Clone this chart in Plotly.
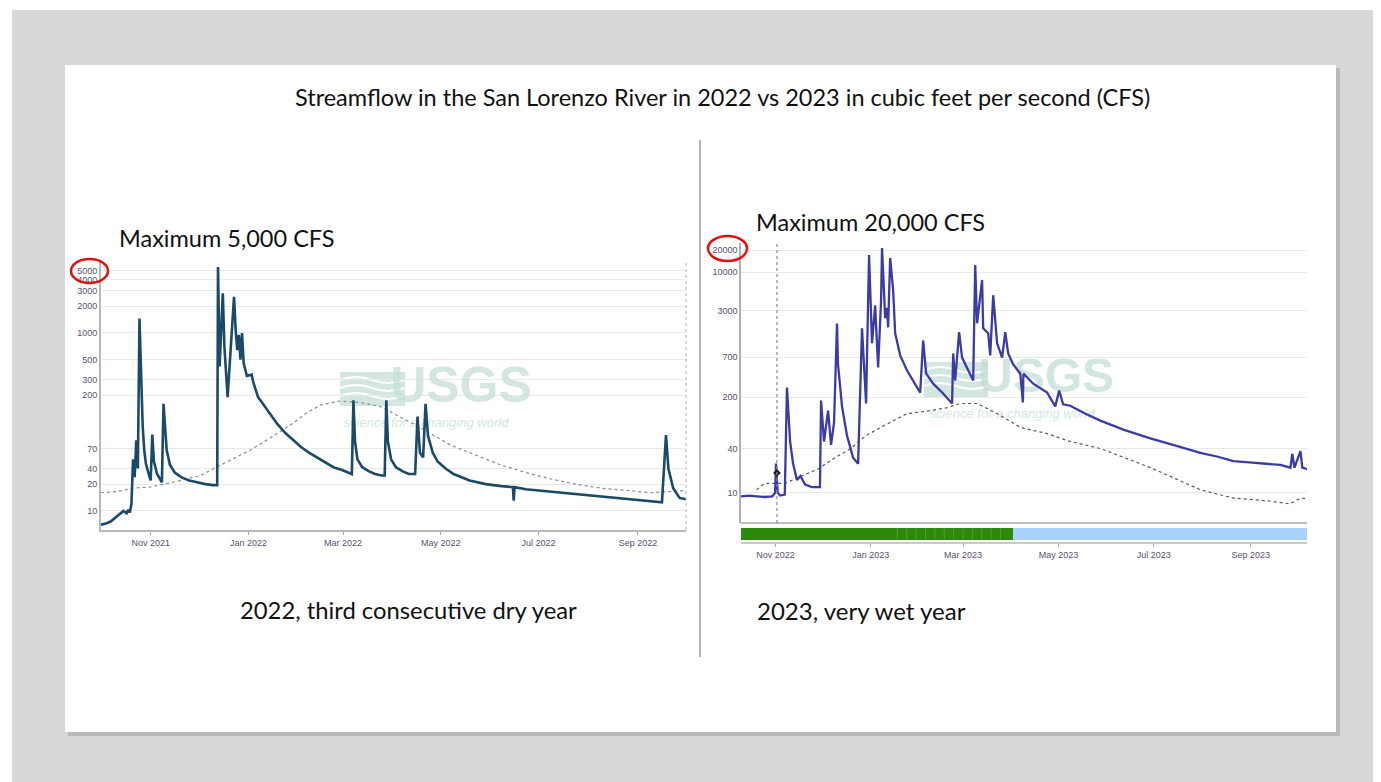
import pandas as pd
import numpy as np
import plotly.graph_objects as go

# ---------------- DATA ----------------
# Water year 2022 (left chart), days counted from WY22_START
WY22_START = "2021-10-01"
left_days = [0, 3, 6, 9, 12, 14, 16, 17, 18, 19, 20, 21, 22, 23, 24, 25, 26, 27, 28, 30,
             31, 32, 33, 35, 37, 38, 39, 40, 41, 43, 46, 50, 55, 60, 65, 70, 72.5, 73, 74, 76,
             77, 79, 80, 83, 84, 85, 86, 87, 88, 89, 91, 94, 95, 98, 100, 105, 110, 115, 120, 125,
             130, 135, 140, 145, 150, 155, 156.5, 157.5, 158.5, 160, 163, 167, 171, 175, 177, 178, 179, 181, 184, 188,
             192, 196, 197.5, 199, 201, 202.5, 204, 207, 210, 215, 220, 230, 240, 250, 257, 257.5, 258, 265, 280, 300,
             320, 340, 350, 352.5, 354, 357, 361, 365]
left_cfs = [7, 7.2, 7.6, 8.5, 9.3, 10, 9.4, 10.3, 9.6, 12, 38, 24, 62, 30, 1450, 280, 90, 48, 34, 25,
            22, 72, 36, 26, 22, 21, 160, 75, 48, 33, 27, 24, 22, 21, 20, 19.5, 19.5, 5500, 420, 2800,
            700, 190, 350, 2550, 1100, 640, 950, 500, 1000, 460, 330, 340, 280, 190, 170, 125, 95, 75, 62, 52,
            45, 40, 35, 31, 29, 27, 26, 175, 60, 38, 31, 28, 26, 25, 25, 175, 60, 38, 31, 28,
            26, 26, 115, 45, 40, 160, 70, 45, 36, 30, 26, 22, 20, 19, 18.5, 13, 18.5, 17.5, 16.5, 15,
            14, 13, 12.5, 71, 30, 18, 14, 13.5]
left_median_days = [0, 10, 20, 31, 45, 62, 75, 93, 105, 118, 128, 137, 149, 162, 174, 187, 200, 218,
                    235, 249, 265, 280, 296, 312, 328, 343, 355, 365]
left_median_cfs = [16, 16.5, 18, 18.6, 21, 25, 33, 48, 65, 92, 125, 155, 172, 165, 150, 112, 85, 55,
                   42, 33, 27, 23, 20, 18, 17, 16, 16.5, 17]
left_tickvals = [10, 20, 30, 50, 200, 300, 500, 1000, 2000, 3000, 4000, 5000]
left_ticktext = ["10", "20", "40", "70", "200", "300", "500", "1000", "2000", "3000", "4000", "5000"]

# Water year 2023 (right chart), days counted from WY23_START
WY23_START = "2022-10-10"
right_days = [0, 5, 10, 15, 20, 21.8, 22.4, 23.5, 25, 28, 29.4, 30.5, 31.4, 33.3, 35.8, 38, 41, 45.4, 50.5, 51.2,
              53.1, 55.7, 57.6, 59.5, 61.4, 62, 64.6, 67.8, 71.7, 74.9, 77.4, 80, 81.9, 83.8, 85.8, 87.7, 89.6, 90.2, 92.2, 93.4,
              94.1, 95.4, 97.3, 98.6, 101.8, 106.2, 112.6, 114.6, 116.5, 118.4, 122.9, 129.3, 135, 135.7, 137, 139.5, 141.4, 144.6, 148.5, 149.8,
              151, 154.2, 154.9, 158.1, 159.4, 161.3, 163.8, 167, 169, 170.9, 174, 178.6, 180.3, 180.6, 181, 186.9, 195.8, 201, 203.5, 206,
              210.6, 220, 229.8, 245, 261.8, 278, 293.8, 305, 314.9, 325, 336.6, 345, 351.4, 352.6, 354, 357.8, 359, 362.2]
right_cfs = [9, 9.2, 9, 8.8, 9, 10, 25, 10, 9.2, 9.5, 270, 90, 50, 25, 15, 17, 13, 12, 12, 180,
             50, 131, 45, 90, 2000, 575, 150, 60, 30, 25, 1730, 164, 17100, 1080, 3540, 505, 4170, 21300, 2370, 3270,
             1780, 15600, 5700, 1480, 740, 460, 270, 231, 1180, 420, 305, 224, 164, 786, 337, 1530, 690, 505, 337, 12500,
             2020, 7830, 1730, 1480, 740, 4860, 1080, 690, 1530, 786, 560, 420, 170, 400, 410, 305, 231, 150, 246, 160,
             153, 120, 96, 72, 55, 44, 35, 31, 27, 26, 25, 24, 22, 34, 22, 37, 22, 21]
right_median_days = [10, 15, 28, 36, 49, 60, 70, 80, 89, 106, 121, 132, 140, 151, 164, 179, 196, 209,
                     230, 262, 294, 315, 337, 351, 358, 362]
right_median_cfs = [11, 13.5, 13.5, 16, 21, 30, 40, 60, 77, 119, 131, 144, 164, 164, 119, 77, 64, 51,
                    40, 22, 11, 8.5, 7.8, 7.1, 8.5, 8.3]
right_tickvals = [10, 40, 200, 700, 3000, 10000, 20000]
right_ticktext = ["10", "40", "200", "700", "3000", "10000", "20000"]
right_marker_date = "2022-11-02"
right_marker_cfs = 18.7
approved_end = "2023-04-02"
approved_stripes = ["2023-01-18", "2023-01-24", "2023-01-30", "2023-02-05", "2023-02-11", "2023-02-17",
                    "2023-02-23", "2023-03-01", "2023-03-07", "2023-03-13", "2023-03-19", "2023-03-25"]

assert len(left_days) == len(left_cfs)
assert len(right_days) == len(right_cfs)
assert len(left_median_days) == len(left_median_cfs)
assert len(right_median_days) == len(right_median_cfs)


def to_dates(start, days):
    return pd.to_datetime(start) + pd.to_timedelta(days, unit="D")


# ---------------- GEOMETRY ----------------
W, H = 1381, 782
OFF = 8  # default page body margin


def px(x):
    return (x - OFF) / W


def py(y):
    return 1 - (y - OFF) / H


L_X0, L_X1, L_Y0, L_Y1 = 101, 686, 262, 530
R_X0, R_X1, R_Y0, R_Y1 = 741, 1307, 243, 523
L_RANGE = ["2021-10-01", "2022-10-01"]
R_RANGE = ["2022-10-10", "2023-10-07"]
L_YR = [np.log10(6.1), np.log10(6280)]
R_YR = [np.log10(3.9), np.log10(24900)]


def xdate(x, x0, x1, rng):
    a, b = pd.to_datetime(rng[0]), pd.to_datetime(rng[1])
    return a + (b - a) * ((x - x0) / (x1 - x0))


def yval(y, y0, y1, yr):
    return 10 ** (yr[0] + (yr[1] - yr[0]) * ((y1 - y) / (y1 - y0)))


WM = "rgba(196,222,212,0.75)"
fig = go.Figure()

# watermark text (drawn first, beneath data)
fig.add_trace(go.Scatter(
    x=[xdate(461, L_X0, L_X1, L_RANGE), xdate(426, L_X0, L_X1, L_RANGE)],
    y=[yval(389, L_Y0, L_Y1, L_YR), yval(424, L_Y0, L_Y1, L_YR)],
    mode="text", text=["<b>USGS</b>", "<i>science for a changing world</i>"],
    textfont=dict(family="Liberation Sans", size=[50, 13], color=WM),
    hoverinfo="skip", showlegend=False, xaxis="x", yaxis="y"))
fig.add_trace(go.Scatter(
    x=[xdate(1046, R_X0, R_X1, R_RANGE), xdate(1012, R_X0, R_X1, R_RANGE)],
    y=[yval(380, R_Y0, R_Y1, R_YR), yval(415, R_Y0, R_Y1, R_YR)],
    mode="text", text=["<b>USGS</b>", "<i>science for a changing world</i>"],
    textfont=dict(family="Liberation Sans", size=[48, 13], color=WM),
    hoverinfo="skip", showlegend=False, xaxis="x2", yaxis="y2"))

# left chart
fig.add_trace(go.Scatter(x=to_dates(WY22_START, left_median_days), y=left_median_cfs, mode="lines",
                         line=dict(color="#8a8a8a", width=1.2, dash="dot"), showlegend=False,
                         xaxis="x", yaxis="y"))
fig.add_trace(go.Scatter(x=to_dates(WY22_START, left_days), y=left_cfs, mode="lines",
                         line=dict(color="#1b4a68", width=2.6), showlegend=False,
                         xaxis="x", yaxis="y"))
# right chart
fig.add_trace(go.Scatter(x=to_dates(WY23_START, right_median_days), y=right_median_cfs, mode="lines",
                         line=dict(color="#5a5a5a", width=1.2, dash="dot"), showlegend=False,
                         xaxis="x2", yaxis="y2"))
fig.add_trace(go.Scatter(x=to_dates(WY23_START, right_days), y=right_cfs, mode="lines",
                         line=dict(color="#3b3ba6", width=2.3), showlegend=False,
                         xaxis="x2", yaxis="y2"))
fig.add_trace(go.Scatter(x=[pd.to_datetime(right_marker_date)], y=[right_marker_cfs], mode="markers",
                         marker=dict(color="#222", size=6, symbol="diamond"), showlegend=False,
                         xaxis="x2", yaxis="y2"))

tickfont = dict(family="Liberation Sans", size=9, color="#5a5070")
grid = "#e9e9e9"

fig.update_layout(
    width=W, height=H, autosize=False,
    margin=dict(l=0, r=0, t=0, b=0),
    paper_bgcolor="white", plot_bgcolor="rgba(0,0,0,0)",
    xaxis=dict(domain=[px(L_X0), px(L_X1)], anchor="y", type="date", range=L_RANGE,
               tick0="2021-11-01", dtick="M2", tickformat="%b %Y", ticks="outside", ticklen=3,
               tickcolor="#aaa", showline=True, linecolor="#b8b8b8", linewidth=2,
               showgrid=False, zeroline=False, tickfont=tickfont),
    yaxis=dict(domain=[py(L_Y1), py(L_Y0)], anchor="x", type="log", range=L_YR,
               tickvals=left_tickvals, ticktext=left_ticktext, ticks="", showline=True,
               linecolor="#b8b8b8", linewidth=2, gridcolor=grid, gridwidth=1, zeroline=False,
               tickfont=tickfont),
    xaxis2=dict(domain=[px(R_X0), px(R_X1)], anchor="free", position=py(543), type="date",
                range=R_RANGE, tick0="2022-11-01", dtick="M2", tickformat="%b %Y",
                ticks="outside", ticklen=3, tickcolor="#aaa", showline=True, linecolor="#c8c8c8",
                linewidth=2, showgrid=False, zeroline=False, tickfont=tickfont),
    yaxis2=dict(domain=[py(R_Y1), py(R_Y0)], anchor="x2", type="log", range=R_YR,
                tickvals=right_tickvals, ticktext=right_ticktext, ticks="", showline=True,
                linecolor="#b0b0b0", linewidth=1.5, gridcolor=grid, gridwidth=1, zeroline=False,
                tickfont=tickfont),
)

shapes = []
# page background and card
shapes.append(dict(type="rect", xref="paper", yref="paper", x0=px(12), x1=1, y0=0, y1=py(10),
                   fillcolor="#d8d8d8", line=dict(width=0), layer="below"))
shapes.append(dict(type="rect", xref="paper", yref="paper", x0=px(68), x1=px(1340), y0=py(736), y1=py(68),
                   fillcolor="#b9b9b9", line=dict(width=0), layer="below"))
shapes.append(dict(type="rect", xref="paper", yref="paper", x0=px(65), x1=px(1336), y0=py(732), y1=py(65),
                   fillcolor="white", line=dict(width=0), layer="below"))
# USGS wave boxes (watermark)
shapes.append(dict(type="rect", xref="paper", yref="paper", x0=px(340), x1=px(405), y0=py(406), y1=py(372),
                   fillcolor=WM, line=dict(width=0), layer="below"))
shapes.append(dict(type="rect", xref="paper", yref="paper", x0=px(924), x1=px(988), y0=py(397), y1=py(362),
                   fillcolor=WM, line=dict(width=0), layer="below"))
for (bx, by) in [(340, 380), (340, 388), (340, 396), (924, 370), (924, 378), (924, 386)]:
    shapes.append(dict(type="path", xref="paper", yref="paper",
                       path=f"M {px(bx)} {py(by)} Q {px(bx+16)} {py(by-6)} {px(bx+32)} {py(by)} T {px(bx+64)} {py(by)}",
                       line=dict(color="white", width=2), layer="below"))
# divider
shapes.append(dict(type="line", xref="paper", yref="paper", x0=px(700), x1=px(700), y0=py(657), y1=py(140),
                   line=dict(color="#6a6a6a", width=1)))
# left chart right dotted border
shapes.append(dict(type="line", xref="paper", yref="paper", x0=px(L_X1), x1=px(L_X1), y0=py(L_Y1), y1=py(L_Y0),
                   line=dict(color="#b0b0b0", width=1, dash="dot")))
# right chart bottom border
shapes.append(dict(type="line", xref="paper", yref="paper", x0=px(R_X0), x1=px(R_X1), y0=py(R_Y1), y1=py(R_Y1),
                   line=dict(color="#a8a8a8", width=1.5)))
# right chart dotted marker line
shapes.append(dict(type="line", xref="x2", yref="paper", x0=right_marker_date, x1=right_marker_date,
                   y0=py(R_Y1), y1=py(R_Y0), line=dict(color="#8a8a8a", width=1.2, dash="dot")))
# qualifier bar
shapes.append(dict(type="rect", xref="x2", yref="paper", x0=R_RANGE[0], x1=approved_end, y0=py(540), y1=py(528),
                   fillcolor="#2b8a0a", line=dict(width=0)))
shapes.append(dict(type="rect", xref="x2", yref="paper", x0=approved_end, x1=R_RANGE[1], y0=py(540), y1=py(528),
                   fillcolor="#a9d3ff", line=dict(width=0)))
for s in approved_stripes:
    shapes.append(dict(type="line", xref="x2", yref="paper", x0=s, x1=s, y0=py(540), y1=py(528),
                       line=dict(color="#4aa030", width=1)))
# red circles
shapes.append(dict(type="circle", xref="paper", yref="paper", x0=px(71), x1=px(108), y0=py(283), y1=py(259),
                   line=dict(color="#e01010", width=2.5)))
shapes.append(dict(type="circle", xref="paper", yref="paper", x0=px(708), x1=px(747), y0=py(261), y1=py(236),
                   line=dict(color="#e01010", width=2.5)))
fig.update_layout(shapes=shapes)

TF = "Lato"
ann = [
    dict(text="Streamflow in the San Lorenzo River in 2022 vs 2023 in cubic feet per second (CFS)",
         x=px(722), y=py(97), size=23.5, xanchor="center"),
    dict(text="Maximum 5,000 CFS", x=px(117), y=py(238), size=23.5, xanchor="left"),
    dict(text="Maximum 20,000 CFS", x=px(754), y=py(222), size=23.5, xanchor="left"),
    dict(text="2022, third consecutive dry year", x=px(408), y=py(610), size=23.8, xanchor="center"),
    dict(text="2023, very wet year", x=px(755), y=py(610), size=24, xanchor="left"),
]
fig.update_layout(annotations=[
    dict(text=a["text"], x=a["x"], y=a["y"], xref="paper", yref="paper", xanchor=a["xanchor"],
         yanchor="middle", showarrow=False, font=dict(family=TF, size=a["size"], color="#111"))
    for a in ann
])

fig.write_html("out.html")
